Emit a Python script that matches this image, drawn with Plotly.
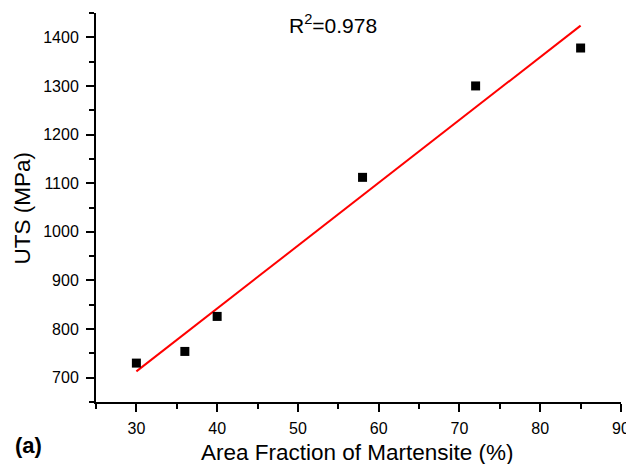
import plotly.graph_objects as go

# Data
martensite = [30, 36, 40, 58, 72, 85]
uts = [730, 754, 826, 1112, 1300, 1378]
fit_x = [30, 85]
fit_y = [713, 1424]
r2_label = "R<sup>2</sup>=0.978"
x_title = "Area Fraction of Martensite (%)"
y_title = "UTS (MPa)"
panel_label = "<b>(a)</b>"

FONT = "Arial, 'Liberation Sans', sans-serif"

# The page body has an 8px default margin, so the figure is drawn 8px
# right and down inside the 634x464 window.
OFF = 8
FW, FH = 634 - OFF, 464 - OFF
# plot area in window pixels (reference): left 96, top 13, right 621, bottom 402
L, T = 96 - OFF, 13 - OFF
R = FW - (621 - OFF)
B = FH - (402 - OFF)
W, H = FW - L - R, FH - T - B


def px_x(px):
    return (px - OFF - L) / W


def px_y(py):
    return (FH - B - (py - OFF)) / H


fig = go.Figure()
fig.add_trace(go.Scatter(x=fit_x, y=fit_y, mode="lines",
                         line=dict(color="#ff0000", width=2), showlegend=False))
fig.add_trace(go.Scatter(x=martensite, y=uts, mode="markers",
                         marker=dict(symbol="square", size=9, color="black",
                                     line=dict(width=0)), showlegend=False))

axis_common = dict(showgrid=False, zeroline=False, showline=True,
                   linecolor="black", linewidth=2, ticks="outside",
                   ticklen=8, tickwidth=2, tickcolor="black",
                   tickfont=dict(size=16), automargin=False)

fig.update_layout(
    width=FW, height=FH,
    margin=dict(l=L, r=R, t=T, b=B),
    paper_bgcolor="white", plot_bgcolor="white",
    font=dict(family=FONT, color="black", size=16),
    xaxis=dict(range=[25, 90], tick0=30, dtick=10, ticklabelstandoff=3,
               minor=dict(ticks="outside", dtick=5, tick0=25, ticklen=5,
                          tickwidth=2, tickcolor="black", showgrid=False),
               **axis_common),
    yaxis=dict(range=[650, 1450], tick0=700, dtick=100, ticklabelstandoff=4,
               minor=dict(ticks="outside", dtick=50, tick0=650, ticklen=5,
                          tickwidth=2, tickcolor="black", showgrid=False),
               **axis_common),
    annotations=[
        dict(x=54.3, y=1427, xref="x", yref="y", text=r2_label, showarrow=False,
             font=dict(size=21, family=FONT), xanchor="center", yanchor="middle"),
        dict(x=px_x(13), y=px_y(445), xref="paper", yref="paper", text=panel_label,
             showarrow=False, font=dict(size=22, family=FONT),
             xanchor="left", yanchor="middle"),
        dict(x=px_x(357.5), y=px_y(452), xref="paper", yref="paper", text=x_title,
             showarrow=False, font=dict(size=22.5, family=FONT),
             xanchor="center", yanchor="middle"),
        dict(x=px_x(22), y=px_y(208.5), xref="paper", yref="paper", text=y_title,
             showarrow=False, font=dict(size=22.5, family=FONT), textangle=-90,
             xanchor="center", yanchor="middle"),
    ],
)

fig.write_html("out.html")
